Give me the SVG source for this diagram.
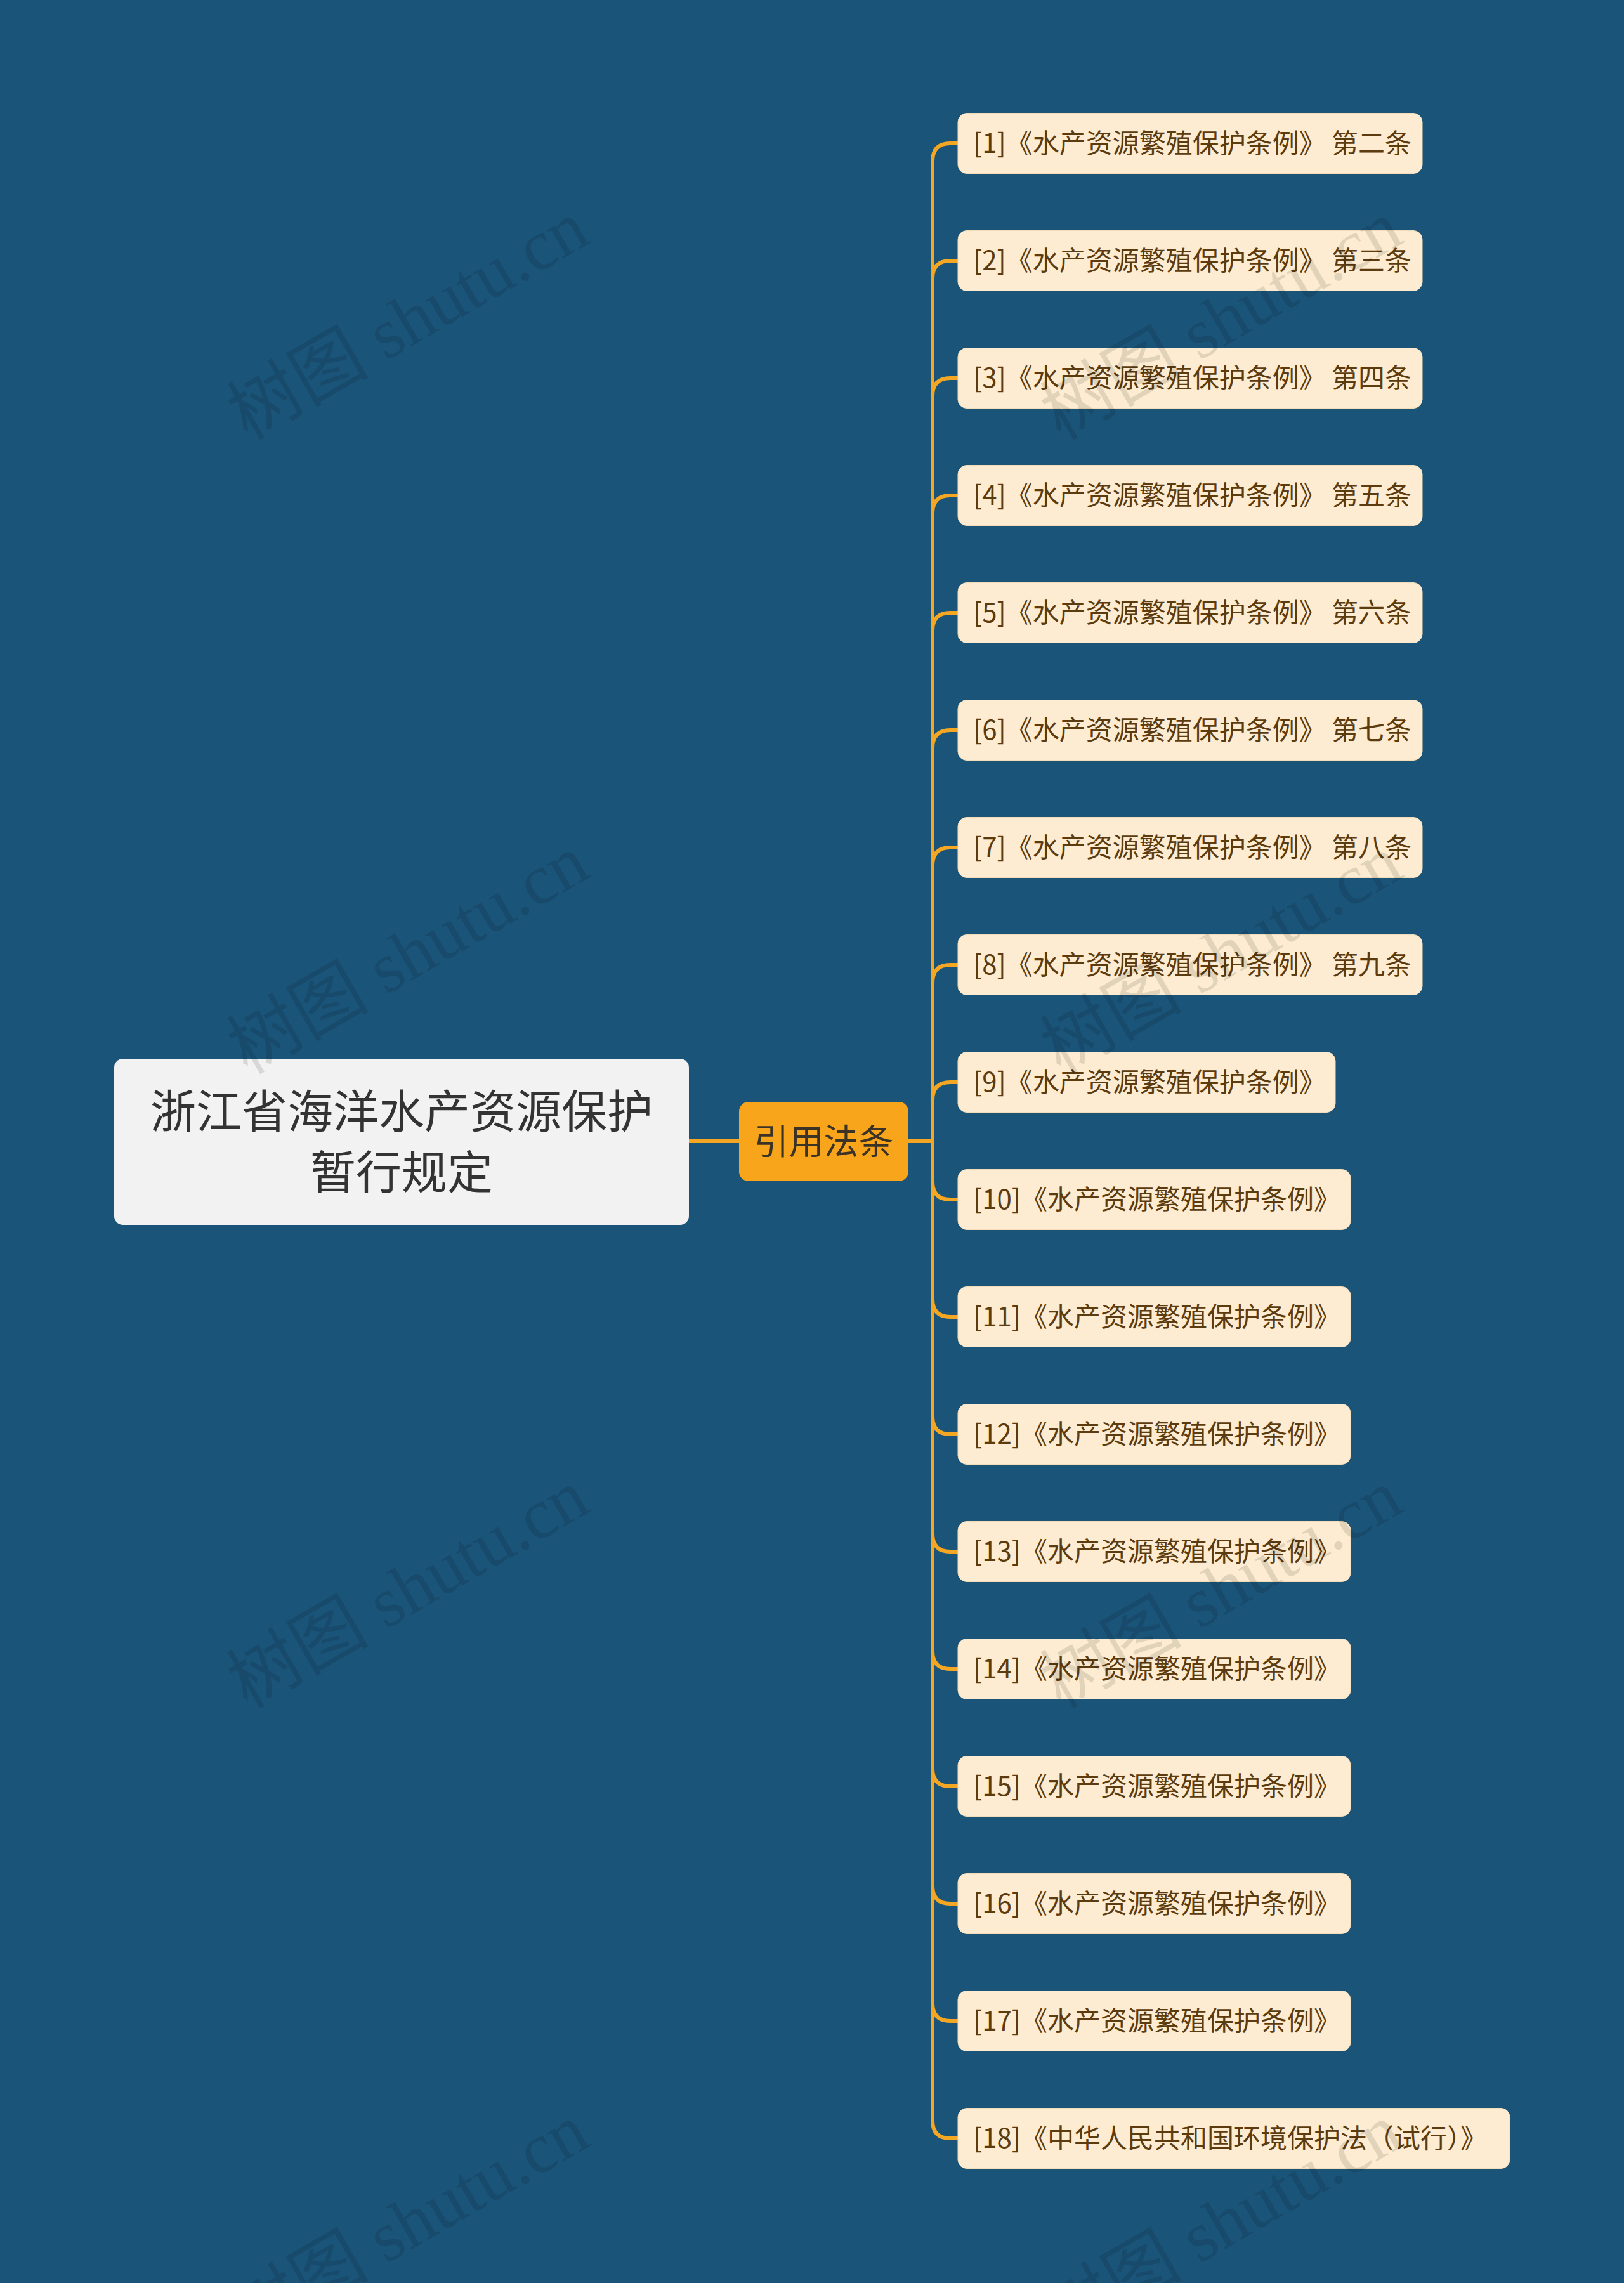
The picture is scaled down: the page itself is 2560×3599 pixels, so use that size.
<svg xmlns="http://www.w3.org/2000/svg" width="2560" height="3599" viewBox="0 0 2560 3599">
<style>
.cjk{font-family:"Noto Sans CJK SC","Noto Sans",sans-serif}
.leaf rect{fill:#fdecd1;stroke:#f3dcb8;stroke-width:1}
.leaf text{font-size:42px;fill:#5c3b0f}
.conn path{fill:none;stroke:#f5a623;stroke-width:6;stroke-linecap:round;stroke-linejoin:round}
.wm{font-family:"Liberation Serif","Noto Sans CJK SC",serif;font-size:112px;fill:#000;fill-opacity:0.11}
</style>
<rect x="0" y="0" width="2560" height="3599" fill="#1a5479"/>
<g id="connectors" class="conn">
<path d="M1086 1799 H1165"/>
<path d="M1432 1799 H1470 V254 Q1470 226 1498 226 H1510"/>
<path d="M1432 1799 H1470 V439 Q1470 411 1498 411 H1510"/>
<path d="M1432 1799 H1470 V624 Q1470 596 1498 596 H1510"/>
<path d="M1432 1799 H1470 V809 Q1470 781 1498 781 H1510"/>
<path d="M1432 1799 H1470 V994 Q1470 966 1498 966 H1510"/>
<path d="M1432 1799 H1470 V1179 Q1470 1151 1498 1151 H1510"/>
<path d="M1432 1799 H1470 V1364 Q1470 1336 1498 1336 H1510"/>
<path d="M1432 1799 H1470 V1549 Q1470 1521 1498 1521 H1510"/>
<path d="M1432 1799 H1470 V1734 Q1470 1706 1498 1706 H1510"/>
<path d="M1432 1799 H1470 V1863 Q1470 1891 1498 1891 H1510"/>
<path d="M1432 1799 H1470 V2048 Q1470 2076 1498 2076 H1510"/>
<path d="M1432 1799 H1470 V2233 Q1470 2261 1498 2261 H1510"/>
<path d="M1432 1799 H1470 V2418 Q1470 2446 1498 2446 H1510"/>
<path d="M1432 1799 H1470 V2603 Q1470 2631 1498 2631 H1510"/>
<path d="M1432 1799 H1470 V2788 Q1470 2816 1498 2816 H1510"/>
<path d="M1432 1799 H1470 V2973 Q1470 3001 1498 3001 H1510"/>
<path d="M1432 1799 H1470 V3158 Q1470 3186 1498 3186 H1510"/>
<path d="M1432 1799 H1470 V3343 Q1470 3371 1498 3371 H1510"/>
</g>
<g id="root">
<rect x="180" y="1669" width="906" height="262" rx="14" fill="#f2f2f2"/>
<text class="cjk" x="633" y="1778" font-size="72" fill="#333" text-anchor="middle">浙江省海洋水产资源保护</text>
<text class="cjk" x="633" y="1874" font-size="72" fill="#333" text-anchor="middle">暂行规定</text>
</g>
<g id="mid">
<rect x="1165" y="1737" width="267" height="125" rx="15" fill="#f8a51c"/>
<text class="cjk" x="1298.5" y="1819" font-size="55" fill="#3a3326" text-anchor="middle">引用法条</text>
</g>
<g id="leaf1" class="leaf"><rect x="1510" y="178.5" width="732" height="95" rx="14"/><text class="cjk" x="1534" y="241">[1]《水产资源繁殖保护条例》 第二条</text></g>
<g id="leaf2" class="leaf"><rect x="1510" y="363.5" width="732" height="95" rx="14"/><text class="cjk" x="1534" y="426">[2]《水产资源繁殖保护条例》 第三条</text></g>
<g id="leaf3" class="leaf"><rect x="1510" y="548.5" width="732" height="95" rx="14"/><text class="cjk" x="1534" y="611">[3]《水产资源繁殖保护条例》 第四条</text></g>
<g id="leaf4" class="leaf"><rect x="1510" y="733.5" width="732" height="95" rx="14"/><text class="cjk" x="1534" y="796">[4]《水产资源繁殖保护条例》 第五条</text></g>
<g id="leaf5" class="leaf"><rect x="1510" y="918.5" width="732" height="95" rx="14"/><text class="cjk" x="1534" y="981">[5]《水产资源繁殖保护条例》 第六条</text></g>
<g id="leaf6" class="leaf"><rect x="1510" y="1103.5" width="732" height="95" rx="14"/><text class="cjk" x="1534" y="1166">[6]《水产资源繁殖保护条例》 第七条</text></g>
<g id="leaf7" class="leaf"><rect x="1510" y="1288.5" width="732" height="95" rx="14"/><text class="cjk" x="1534" y="1351">[7]《水产资源繁殖保护条例》 第八条</text></g>
<g id="leaf8" class="leaf"><rect x="1510" y="1473.5" width="732" height="95" rx="14"/><text class="cjk" x="1534" y="1536">[8]《水产资源繁殖保护条例》 第九条</text></g>
<g id="leaf9" class="leaf"><rect x="1510" y="1658.5" width="595" height="95" rx="14"/><text class="cjk" x="1534" y="1721">[9]《水产资源繁殖保护条例》</text></g>
<g id="leaf10" class="leaf"><rect x="1510" y="1843.5" width="619" height="95" rx="14"/><text class="cjk" x="1534" y="1906">[10]《水产资源繁殖保护条例》</text></g>
<g id="leaf11" class="leaf"><rect x="1510" y="2028.5" width="619" height="95" rx="14"/><text class="cjk" x="1534" y="2091">[11]《水产资源繁殖保护条例》</text></g>
<g id="leaf12" class="leaf"><rect x="1510" y="2213.5" width="619" height="95" rx="14"/><text class="cjk" x="1534" y="2276">[12]《水产资源繁殖保护条例》</text></g>
<g id="leaf13" class="leaf"><rect x="1510" y="2398.5" width="619" height="95" rx="14"/><text class="cjk" x="1534" y="2461">[13]《水产资源繁殖保护条例》</text></g>
<g id="leaf14" class="leaf"><rect x="1510" y="2583.5" width="619" height="95" rx="14"/><text class="cjk" x="1534" y="2646">[14]《水产资源繁殖保护条例》</text></g>
<g id="leaf15" class="leaf"><rect x="1510" y="2768.5" width="619" height="95" rx="14"/><text class="cjk" x="1534" y="2831">[15]《水产资源繁殖保护条例》</text></g>
<g id="leaf16" class="leaf"><rect x="1510" y="2953.5" width="619" height="95" rx="14"/><text class="cjk" x="1534" y="3016">[16]《水产资源繁殖保护条例》</text></g>
<g id="leaf17" class="leaf"><rect x="1510" y="3138.5" width="619" height="95" rx="14"/><text class="cjk" x="1534" y="3201">[17]《水产资源繁殖保护条例》</text></g>
<g id="leaf18" class="leaf"><rect x="1510" y="3323.5" width="870" height="95" rx="14"/><text class="cjk" x="1534" y="3386">[18]《中华人民共和国环境保护法（试行）》</text></g>
<g id="watermarks">
<text class="wm" text-anchor="middle" transform="translate(643 505) rotate(-30)" y="38">树图 shutu.cn</text>
<text class="wm" text-anchor="middle" transform="translate(643 1505) rotate(-30)" y="38">树图 shutu.cn</text>
<text class="wm" text-anchor="middle" transform="translate(643 2505) rotate(-30)" y="38">树图 shutu.cn</text>
<text class="wm" text-anchor="middle" transform="translate(643 3505) rotate(-30)" y="38">树图 shutu.cn</text>
<text class="wm" text-anchor="middle" transform="translate(1925 505) rotate(-30)" y="38">树图 shutu.cn</text>
<text class="wm" text-anchor="middle" transform="translate(1925 1505) rotate(-30)" y="38">树图 shutu.cn</text>
<text class="wm" text-anchor="middle" transform="translate(1925 2505) rotate(-30)" y="38">树图 shutu.cn</text>
<text class="wm" text-anchor="middle" transform="translate(1925 3505) rotate(-30)" y="38">树图 shutu.cn</text>
</g>
</svg>
